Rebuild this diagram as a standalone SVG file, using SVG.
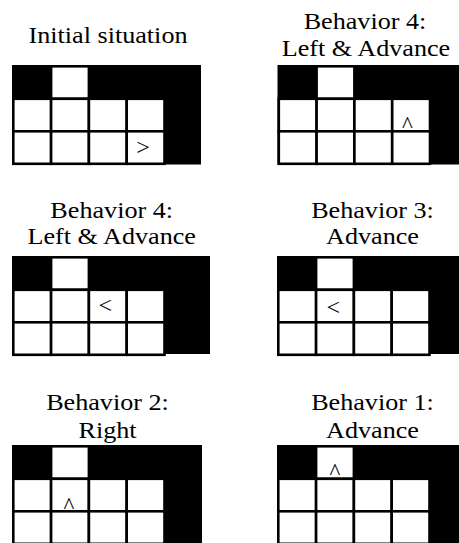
<svg xmlns="http://www.w3.org/2000/svg" width="459" height="543" viewBox="0 0 459 543">
<style>
.cell{fill:#fff;stroke:#000;stroke-width:2.6}
.wall{fill:#000}
</style>
<defs>
<g id="cells">
<rect class="cell" x="39.1" y="1.3" width="37.8" height="32.5"/>
<rect class="cell" x="1.3" y="33.8" width="37.8" height="32.5"/>
<rect class="cell" x="39.1" y="33.8" width="37.8" height="32.5"/>
<rect class="cell" x="76.9" y="33.8" width="37.8" height="32.5"/>
<rect class="cell" x="114.7" y="33.8" width="37.8" height="32.5"/>
<rect class="cell" x="1.3" y="66.3" width="37.8" height="32.5"/>
<rect class="cell" x="39.1" y="66.3" width="37.8" height="32.5"/>
<rect class="cell" x="76.9" y="66.3" width="37.8" height="32.5"/>
<rect class="cell" x="114.7" y="66.3" width="37.8" height="32.5"/>
</g>
</defs>
<rect width="459" height="543" fill="#fff"/>
<g id="panel-initial">
<text transform="translate(108 43.3) scale(1.09 1)" font-family="Liberation Serif" font-size="24" text-anchor="middle">Initial situation</text>
<rect class="wall" x="12" y="65" width="189" height="99.5"/>
<use href="#cells" x="12" y="65"/>
<text x="143" y="154.5" font-family="Liberation Serif" font-size="24" text-anchor="middle">&gt;</text>
</g>
<g id="panel-b4-first">
<text transform="translate(365 28.5) scale(1.09 1)" font-family="Liberation Serif" font-size="24" text-anchor="middle">Behavior 4:</text>
<text transform="translate(366 55.5) scale(1.09 1)" font-family="Liberation Serif" font-size="24" text-anchor="middle">Left &amp; Advance</text>
<rect class="wall" x="277.5" y="65" width="189" height="99.5"/>
<use href="#cells" x="277.5" y="65"/>
<text x="407.5" y="131.5" font-family="Liberation Serif" font-size="23" text-anchor="middle">^</text>
</g>
<g id="panel-b4-second">
<text transform="translate(111.7 217.7) scale(1.09 1)" font-family="Liberation Serif" font-size="24" text-anchor="middle">Behavior 4:</text>
<text transform="translate(111.7 244.3) scale(1.09 1)" font-family="Liberation Serif" font-size="24" text-anchor="middle">Left &amp; Advance</text>
<rect class="wall" x="12" y="256" width="198" height="98"/>
<use href="#cells" x="12" y="256"/>
<text x="105.3" y="313" font-family="Liberation Serif" font-size="24" text-anchor="middle">&lt;</text>
</g>
<g id="panel-b3">
<text transform="translate(372.5 217.7) scale(1.09 1)" font-family="Liberation Serif" font-size="24" text-anchor="middle">Behavior 3:</text>
<text transform="translate(372.5 244.3) scale(1.09 1)" font-family="Liberation Serif" font-size="24" text-anchor="middle">Advance</text>
<rect class="wall" x="277" y="256" width="189" height="98"/>
<use href="#cells" x="277" y="256"/>
<text x="333.3" y="314.6" font-family="Liberation Serif" font-size="24" text-anchor="middle">&lt;</text>
</g>
<g id="panel-b2">
<text transform="translate(107.5 410) scale(1.09 1)" font-family="Liberation Serif" font-size="24" text-anchor="middle">Behavior 2:</text>
<text transform="translate(107.5 438) scale(1.09 1)" font-family="Liberation Serif" font-size="24" text-anchor="middle">Right</text>
<rect class="wall" x="12" y="445" width="190" height="100"/>
<use href="#cells" x="12" y="445"/>
<text x="68.8" y="513" font-family="Liberation Serif" font-size="23" text-anchor="middle">^</text>
</g>
<g id="panel-b1">
<text transform="translate(372.5 410) scale(1.09 1)" font-family="Liberation Serif" font-size="24" text-anchor="middle">Behavior 1:</text>
<text transform="translate(372.5 438) scale(1.09 1)" font-family="Liberation Serif" font-size="24" text-anchor="middle">Advance</text>
<rect class="wall" x="277" y="445" width="189" height="100"/>
<use href="#cells" x="277" y="445"/>
<text x="335" y="479" font-family="Liberation Serif" font-size="23" text-anchor="middle">^</text>
</g>
<g id="connectors"/>
</svg>
